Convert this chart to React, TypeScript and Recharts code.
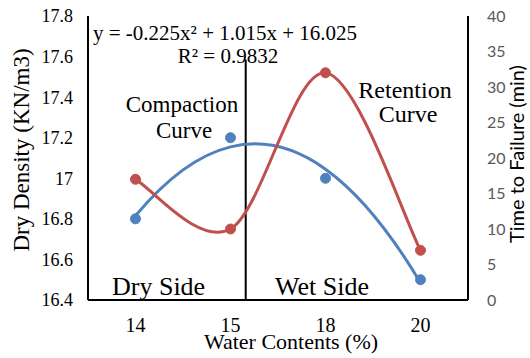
import React from "react";
import { LineChart, Line, XAxis, YAxis, ReferenceLine } from "recharts";

const waterContents = ["14", "15", "18", "20"];
const dryDensity = [16.8, 17.2, 17.0, 16.5];
const densityTrend = [16.815, 17.155, 17.045, 16.485];
const timeToFailure = [17, 10, 32, 7];
const densityTicks = [16.4, 16.6, 16.8, 17, 17.2, 17.4, 17.6, 17.8];
const timeTicks = [0, 5, 10, 15, 20, 25, 30, 35, 40];

const data = waterContents.map((w, i) => ({
  water: w,
  pos: i,
  density: dryDensity[i],
  trend: densityTrend[i],
  time: timeToFailure[i]
}));

const BLUE = "#4f81bd";
const RED = "#c0504d";
const SERIF = "'Liberation Serif', 'Times New Roman', serif";
const SANS = "Lato, 'Liberation Sans', sans-serif";
const BORDER = { stroke: "#000", strokeWidth: 2 };

// smoothed line like Excel's (cardinal, 1/6 handles); quadEnds extends
// the end tangents so a polynomial trendline stays a parabola
function makeSmooth(quadEnds: boolean) {
  return (context: any) => {
    let pts: number[][] = [];
    return {
      areaStart() {},
      areaEnd() {},
      lineStart() {
        pts = [];
      },
      point(x: number, y: number) {
        pts.push([+x, +y]);
      },
      lineEnd() {
        const n = pts.length;
        if (!n) return;
        const at = (i: number) => {
          if (i >= 0 && i < n) return pts[i];
          if (!quadEnds || n < 3) return pts[Math.max(0, Math.min(n - 1, i))];
          const [a, b, c] = i < 0 ? [pts[0], pts[1], pts[2]] : [pts[n - 1], pts[n - 2], pts[n - 3]];
          return [3 * a[0] - 3 * b[0] + c[0], 3 * a[1] - 3 * b[1] + c[1]];
        };
        context.moveTo(pts[0][0], pts[0][1]);
        for (let i = 0; i < n - 1; i++) {
          const p0 = at(i - 1);
          const p1 = pts[i];
          const p2 = pts[i + 1];
          const p3 = at(i + 2);
          context.bezierCurveTo(
            p1[0] + (p2[0] - p0[0]) / 6,
            p1[1] + (p2[1] - p0[1]) / 6,
            p2[0] - (p3[0] - p1[0]) / 6,
            p2[1] - (p3[1] - p1[1]) / 6,
            p2[0],
            p2[1]
          );
        }
      }
    };
  };
}

const txt = { fontFamily: SERIF, fill: "#000" };

export default function App() {
  return (
    <div style={{ position: "absolute", left: 0, top: 0, width: 530, height: 358, background: "#fff" }}>
      <LineChart
        width={530}
        height={358}
        data={data}
        margin={{ top: 16, right: 0, bottom: 0, left: 0 }}
      >
        <XAxis
          dataKey="water"
          height={58}
          padding={{ left: 47.5, right: 47.5 }}
          axisLine={BORDER}
          tickLine={false}
          tickSize={0}
          tickMargin={18}
          tick={{ fontSize: 20, fontFamily: SERIF, fill: "#000" }}
        />
        <XAxis
          xAxisId="top"
          orientation="top"
          dataKey="water"
          height={0}
          axisLine={BORDER}
          tickLine={false}
          tick={false}
        />
        <XAxis xAxisId="pos" dataKey="pos" type="number" domain={[-0.5, 3.5]} hide />
        <YAxis
          yAxisId="left"
          width={88}
          domain={[16.4, 17.8]}
          ticks={densityTicks}
          axisLine={BORDER}
          tickLine={false}
          tickSize={0}
          tickMargin={15}
          tick={{ fontSize: 18, fontFamily: SERIF, fill: "#000" }}
        />
        <YAxis
          yAxisId="right"
          orientation="right"
          width={62}
          domain={[0, 40]}
          ticks={timeTicks}
          axisLine={BORDER}
          tickLine={false}
          tickSize={0}
          tickMargin={19}
          tick={{ fontSize: 16, fontFamily: SANS, fill: "#595959" }}
        />
        <ReferenceLine
          xAxisId="pos"
          yAxisId="left"
          segment={[
            { x: 1.16, y: 16.4 },
            { x: 1.16, y: 17.585 }
          ]}
          stroke="#000"
          strokeWidth={2}
        />
        <Line
          yAxisId="left"
          dataKey="trend"
          type={makeSmooth(true) as any}
          stroke={BLUE}
          strokeWidth={3}
          dot={false}
          isAnimationActive={false}
        />
        <Line
          yAxisId="left"
          dataKey="density"
          stroke="none"
          dot={{ r: 5, fill: BLUE, stroke: BLUE, strokeWidth: 1 }}
          isAnimationActive={false}
        />
        <Line
          yAxisId="right"
          dataKey="time"
          type={makeSmooth(false) as any}
          stroke={RED}
          strokeWidth={3}
          dot={{ r: 5, fill: RED, stroke: RED, strokeWidth: 1 }}
          isAnimationActive={false}
        />
      </LineChart>
      <svg
        width={530}
        height={358}
        style={{ position: "absolute", left: 0, top: 0, pointerEvents: "none" }}
      >
        <text {...txt} x={93} y={40} fontSize={21}>
          y = -0.225x² + 1.015x + 16.025
        </text>
        <text {...txt} x={228} y={63} fontSize={21} textAnchor="middle">
          R² = 0.9832
        </text>
        <text {...txt} x={182} y={112} fontSize={23} textAnchor="middle">
          Compaction
        </text>
        <text {...txt} x={184} y={138} fontSize={23} textAnchor="middle">
          Curve
        </text>
        <text {...txt} x={405} y={98} fontSize={24} textAnchor="middle">
          Retention
        </text>
        <text {...txt} x={408} y={122} fontSize={24} textAnchor="middle">
          Curve
        </text>
        <text {...txt} x={112} y={295} fontSize={26}>
          Dry Side
        </text>
        <text {...txt} x={275} y={295} fontSize={26}>
          Wet Side
        </text>
        <text {...txt} x={291} y={349} fontSize={22} textAnchor="middle">
          Water Contents (%)
        </text>
        <text
          {...txt}
          x={0}
          y={0}
          fontSize={23}
          textAnchor="middle"
          transform="translate(29 150) rotate(-90)"
        >
          Dry Density (KN/m3)
        </text>
        <text
          x={0}
          y={0}
          fontSize={20}
          fontFamily={SANS}
          fill="#000"
          textAnchor="middle"
          transform="translate(524 154) rotate(-90)"
        >
          Time to Failure (min)
        </text>
      </svg>
    </div>
  );
}
